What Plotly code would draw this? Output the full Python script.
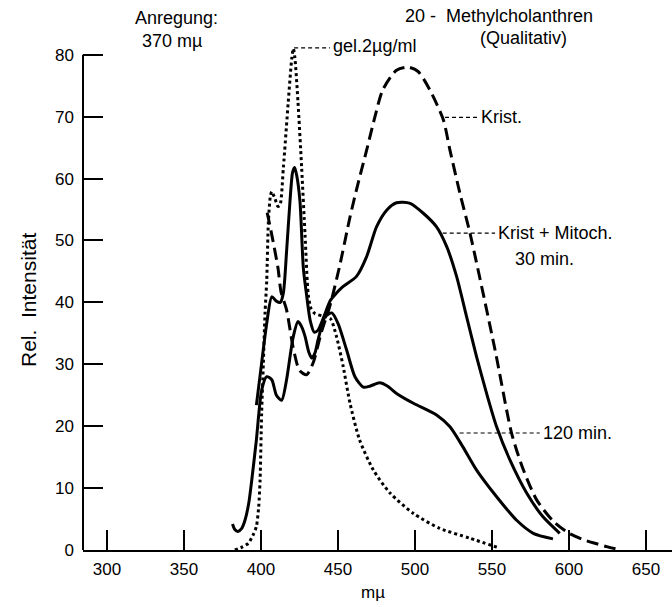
import plotly.graph_objects as go

# ---------------- data (wavelength in mµ, relative intensity) ----------------
gel_x = [383, 388, 391.8, 395, 397, 398.5, 399.4, 400.4, 401.5, 402.6, 403.7, 404.8, 406, 407,
         409, 411, 412.3, 414.5, 417.7, 420, 421, 422, 424, 426.4, 428.6, 430.7, 432.5, 435,
         440, 445, 449, 453.4, 457.8, 464, 473, 483.8, 499, 516, 535.7, 555]
gel_y = [0, 0.5, 1.1, 2.5, 3.8, 7, 11.3, 22, 30, 38.2, 43.5, 53, 57, 57.9,
         56.8, 55.5, 55.7, 61.7, 72.4, 79.5, 81, 79.5, 72.4, 61.7, 50.9, 41.2, 39, 38.2,
         37.8, 37.4, 34.5, 29.6, 23.7, 17.8, 12.9, 9.2, 5.9, 3.5, 1.9, 0.3]

krist_x = [404, 407, 411, 413, 416.6, 420.8, 425, 429.6, 433.8, 439, 444.8, 451, 457.8, 463,
           468.6, 474, 479, 488, 495.5, 502, 509.7, 518.4, 522.7, 529.2, 535.7, 552, 562.7,
           570, 579, 590, 600, 610, 618, 625, 632]
krist_y = [54.5, 50.9, 45.6, 41.7, 38.8, 32.8, 29, 28.3, 30.2, 35, 39.5, 45.8, 53.8, 59.2,
           64.6, 70, 74.3, 77.5, 78, 77.3, 74.3, 69.5, 64.6, 57.6, 51.2, 32.3, 18.9,
           13.2, 8.1, 4.6, 2.7, 1.6, 1.0, 0.5, 0.1]

m30_x = [397, 400.4, 403.7, 407, 410, 412.5, 414.5, 416.6, 418.8, 420.5, 421.8, 423.2, 425.3,
         427.5, 429.6, 432, 434.5, 437, 441, 445, 449, 453, 462, 468.6, 475, 481.6, 488,
         496.8, 505.4, 514, 520.6, 527, 533.5, 540, 546.5, 553, 561.7, 572.5, 583, 594]
m30_y = [23.4, 30.2, 36.6, 40.9, 40.2, 40, 41.5, 48.2, 56.3, 61, 61.8, 60.5, 56.3,
         45.5, 41.2, 37, 35.2, 35.5, 37.8, 40.3, 41.5, 42.5, 44.2, 47.4, 52.2, 54.9, 56.1,
         56.0, 54.4, 52.2, 49, 44.2, 37.7, 31.2, 25.3, 19.9, 14.5, 9.2, 5.4, 2.7]

m120_x = [381.5, 383, 385, 387.5, 389.6, 392, 394, 397, 400.4, 403.7, 407, 410, 413.4, 416.6,
          419, 421, 424, 426.5, 428.6, 431, 433, 435, 437, 439.5, 441.6, 446, 450, 455.6,
          461, 466.5, 471, 477, 482, 488, 499, 514, 522.7, 531, 540, 553, 566, 576.8, 589.6]
m120_y = [4.2, 3.3, 3.0, 3.5, 4.8, 7.5, 11.3, 17.8, 25.8, 28, 27.5, 25, 24.2, 27.5,
          31.5, 34.5, 36.9, 36, 34.5, 32, 31, 31.8, 33.9, 36.2, 37.7, 38.3, 36.6, 32.3,
          28, 26.3, 26.5, 27, 26.5, 25.3, 23.7, 21.8, 19.9, 16.7, 12.9, 8.6, 4.8, 2.7, 1.8]

x_ticks = [300, 350, 400, 450, 500, 550, 600, 650]
y_ticks = [0, 10, 20, 30, 40, 50, 60, 70, 80]

FONT = "Liberation Sans, Arial, sans-serif"

fig = go.Figure()

def add(xs, ys, dash):
    fig.add_trace(go.Scatter(x=xs, y=ys, mode="lines",
                             line=dict(color="black", width=3, dash=dash,
                                       shape="spline", smoothing=0.7),
                             showlegend=False, hoverinfo="skip"))

add(gel_x, gel_y, "3px,3px")
add(krist_x, krist_y, "12px,6px")
add(m30_x, m30_y, "solid")
add(m120_x, m120_y, "solid")

# leader lines (label connectors)
leaders = [
    (421.5, 444.8, 81.1),
    (519.5, 541.0, 69.9),
    (518.0, 552.0, 51.2),
    (529.0, 581.0, 18.9),
]
for x0, x1, yy in leaders:
    fig.add_shape(type="line", xref="x", yref="y", x0=x0, x1=x1, y0=yy, y1=yy,
                  line=dict(color="black", width=1.2, dash="4px,3px"))

# y axis line (only up to 80)
fig.add_shape(type="line", xref="paper", yref="y", x0=0, x1=0, y0=0, y1=80,
              line=dict(color="black", width=2))

labels = [
    ("gel.2µg/ml", 445.5, 81.4),
    ("Krist.", 541.5, 69.9),
    ("Krist + Mitoch.", 552.5, 51.2),
    ("30 min.", 563.6, 47.0),
    ("120 min.", 581.5, 18.9),
]
for t, xx, yy in labels:
    fig.add_annotation(text=t, x=xx, y=yy, xref="x", yref="y", xanchor="left",
                       yanchor="middle", showarrow=False,
                       font=dict(family=FONT, size=18, color="black"))

# texts in the top area / axis titles (paper coordinates)
W_L, W_R, H_T, H_B = 83, 672, 0, 550
def px(x): return (x - W_L) / (W_R - W_L)
def py(y): return (H_B - y) / (H_B - H_T)

tops = [
    ("Anregung:", 133, 18),
    ("370 mµ", 140, 41),
    ("20 -  Methylcholanthren", 403, 16),
    ("(Qualitativ)", 478, 38),
]
for t, xx, yy in tops:
    fig.add_annotation(text=t, x=px(xx), y=py(yy), xref="paper", yref="paper",
                       xanchor="left", yanchor="middle", showarrow=False,
                       font=dict(family=FONT, size=18, color="black"))

fig.add_annotation(text="mµ", x=px(373), y=py(592), xref="paper", yref="paper",
                   xanchor="center", yanchor="middle", showarrow=False,
                   font=dict(family=FONT, size=17, color="black"))
fig.add_annotation(text="Rel.  Intensität", x=px(28), y=py(300), xref="paper", yref="paper",
                   xanchor="center", yanchor="middle", showarrow=False, textangle=-90,
                   font=dict(family=FONT, size=21, color="black"))

fig.update_layout(
    width=672, height=607,
    margin=dict(l=W_L, r=0, t=H_T, b=607 - H_B),
    paper_bgcolor="white", plot_bgcolor="white",
    xaxis=dict(range=[284.4, 666.9], tickvals=x_ticks, ticks="inside", ticklen=20,
               tickwidth=1.5, tickcolor="black", showline=True, linecolor="black",
               linewidth=2, showgrid=False, zeroline=False, ticklabelstandoff=3,
               tickfont=dict(family=FONT, size=17, color="black")),
    yaxis=dict(range=[0, 88.85], tickvals=y_ticks, ticks="inside", ticklen=20,
               tickwidth=1.5, tickcolor="black", showline=False, showgrid=False,
               zeroline=False, ticklabelstandoff=8,
               tickfont=dict(family=FONT, size=17, color="black")),
)

fig.write_html("out.html")
